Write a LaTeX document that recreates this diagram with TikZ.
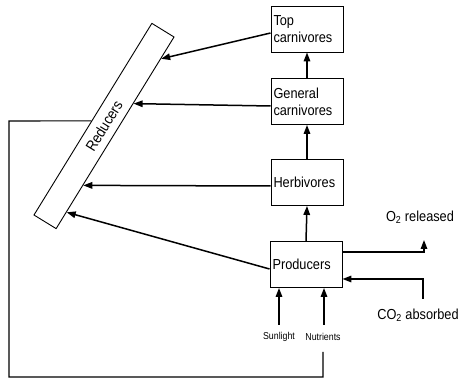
\documentclass[tikz,border=0pt]{standalone}
\usepackage{fontspec}
\setmainfont{Liberation Sans}[FakeStretch=0.88]
\usetikzlibrary{arrows.meta,calc}
\begin{document}
\begin{tikzpicture}[x=1pt,y=-1pt,
  box/.style={draw,line width=0.9pt,minimum width=72pt,minimum height=46pt,
    text width=67pt,inner xsep=2.5pt,align=left,font=\fontsize{14.5}{17}\selectfont},
  arr/.style={-{Triangle[length=9pt,width=6.5pt]},line width=1.5pt},
  lab/.style={font=\fontsize{14.5}{17}\selectfont,inner sep=0pt},
  small/.style={font=\fontsize{10}{12}\selectfont,inner sep=0pt}]
\useasboundingbox (0,0) rectangle (458,379);
\node[box] (top) at (307,29) {Top\\carnivores};
\node[box] (gen) at (307,101.5) {General\\carnivores};
\node[box] (herb) at (307,182.5) {Herbivores};
\node[box] (prod) at (306,264.5) {Producers};
\node[draw,line width=0.9pt,rotate=58.4,minimum width=225pt,minimum height=26pt,
  inner sep=0pt,font=\fontsize{15}{17}\selectfont] (red) at (104,126) {Reducers};
\node[lab] (o2) at (420,217) {O\textsubscript{2} released};
\node[lab] (co2) at (418,315) {CO\textsubscript{2} absorbed};
\node[small] (sun) at (279,337) {Sunlight};
\node[small] (nut) at (323,337) {Nutrients};
\coordinate (r1) at ($(red.south west)!0.886!(red.south east)$);
\coordinate (r2) at ($(red.south west)!0.653!(red.south east)$);
\coordinate (r3) at ($(red.south west)!0.228!(red.south east)$);
\coordinate (r4) at ($(red.south west)!0.088!(red.south east)$);
\coordinate (rn) at ($(red.north west)!0.49!(red.north east)$);
\draw[arr] (gen.north) -- (top.south);
\draw[arr] (herb.north) -- (gen.south);
\draw[arr] (prod.north) -- (herb.south);
\draw[arr] ($(top.west)+(0,4)$) -- (r1);
\draw[arr] ($(gen.west)+(0,4.5)$) -- (r2);
\draw[arr] ($(herb.west)+(0,3.5)$) -- (r3);
\draw[arr] ($(prod.west)+(0,4.5)$) -- (r4);
\coordinate (o2tip) at (424,240);
\draw[arr] ($(prod.east)+(0,-12.5)$) -| (o2tip);
\coordinate (co2s) at (423,299);
\draw[arr] (co2s) |- ($(prod.east)+(0,14.5)$);
\coordinate (sunb) at (279,325);
\coordinate (nutb) at (324,325);
\draw[arr] (sunb) -- (sunb |- prod.south);
\draw[arr] (nutb) -- (nutb |- prod.south);
\coordinate (fb) at (323,352);
\draw[line width=1.1pt] (fb) -- (323,377) -- (9,377) -- (9,121) -- (rn);
\end{tikzpicture}
\end{document}
